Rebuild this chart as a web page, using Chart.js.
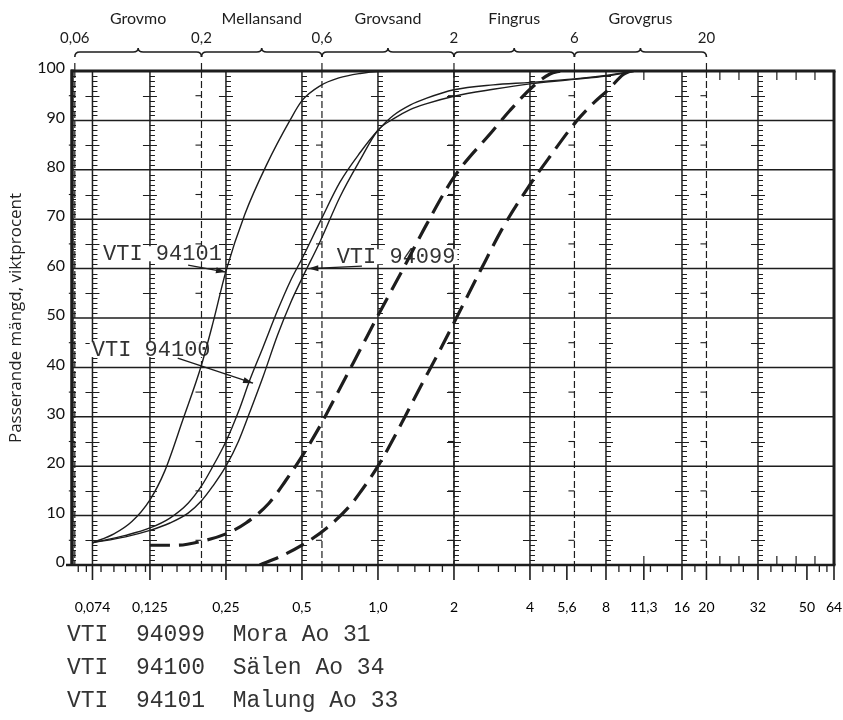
<!DOCTYPE html>
<html><head><meta charset="utf-8">
<script src="https://cdn.jsdelivr.net/npm/chart.js@4/dist/chart.umd.min.js"></script>
<style>html,body{margin:0;padding:0;background:#fff}</style>
</head><body>
<canvas id="c" width="843" height="720"></canvas>
<script>
// ---------- data ----------
const sieveSizes  = [0.074,0.125,0.25,0.5,1,2,4,5.6,8,11.3,16,20,32,50,64];
const sieveLabels = ['0,074','0,125','0,25','0,5','1,0','2','4','5,6','8','11,3','16','20','32','50','64'];
const solidGrid   = [0.074,0.125,0.25,0.5,1,2,4,8,16,32];
const fractionBounds = [0.063,0.2,0.6,2,6,20];
const fractionBoundLabels = ['0,06','0,2','0,6','2','6','20'];
const fractionNames = ['Grovmo','Mellansand','Grovsand','Fingrus','Grovgrus'];
const percentTicks = [0,10,20,30,40,50,60,70,80,90,100];
const minorSieveTicks = [0.065,0.07,0.08,0.09,0.1,0.11,0.12,0.14,0.16,0.18,0.2,0.22,0.24,0.3,0.35,0.4,0.45,0.6,0.7,0.8,0.9,1.2,1.4,1.6,1.8,2.5,3,3.5,4.5,5,6,7,9,10,12,14,18,25,28,36,40,45,56,60];
const innerRulerTicks = [11.3,22.6,26.9,38,45.3,53.8];

const s94099_x = [0.074,0.1,0.125,0.15,0.177,0.2,0.222,0.25,0.28,0.311,0.35,0.4,0.45,0.5,0.59,0.707,0.85,1.0,1.15,1.34,1.56,2,2.86,4,6,8,10.5];
const s94099_y = [4.5,5.7,7,8.5,10.5,13,16,20,25,31,38,46.5,53,58,65.5,74.5,82,88,90.3,92.2,93.4,94.9,96.3,97.4,98.3,99,100];
const s94100_x = [0.074,0.1,0.125,0.15,0.177,0.2,0.222,0.25,0.28,0.311,0.35,0.4,0.45,0.5,0.59,0.707,0.85,1.0,1.15,1.34,1.56,2,2.86,4,6,8,10.5];
const s94100_y = [4.5,6,7.5,9.5,12.5,16,20,25,31,37.5,44,51.5,57.5,62,69.5,77.5,83.5,88,91,93.1,94.5,96.2,97.2,97.7,98.4,99.1,100];
const s94101_x = [0.074,0.09,0.106,0.125,0.143,0.169,0.2,0.222,0.25,0.297,0.362,0.448,0.5,0.59,0.7,0.85,1.0,1.5];
const s94101_y = [4.5,6.3,8.8,13.2,19,29.5,40.5,49,59.5,71,81,90,94,97,98.6,99.5,99.9,100];
const dashA_x = [0.125,0.16,0.2,0.25,0.3,0.37,0.43,0.5,0.58,0.67,0.8,0.9,1.0,1.26,1.56,2.0,2.86,3.33,4.1,4.8,5.3];
const dashA_y = [4,4,4.8,6.3,8.5,12.5,17,22,27.5,33.5,41,46,50.5,60,69,78.5,88,92,96.8,99.4,100];
const dashB_x = [0.34,0.41,0.5,0.627,0.775,0.85,1.0,1.22,1.47,1.76,2.02,2.54,3.14,4.0,4.8,6.1,7.1,8.2,9.36,10];
const dashB_y = [0,1.7,4,7.5,12,14.7,20,28,36,43.5,49.5,59.5,68.5,77,82.7,89.8,93.4,96.3,99.3,100];

const annoText  = ['VTI 94101','VTI 94099','VTI 94100'];
const annoAt    = [[0.0815,62.9],[0.686,62.3],[0.0735,43.5]];   // text left-middle (data coords)
const annoFrom  = [[0.177,60.7],[0.864,60.5],[0.161,41.9]];
const annoTip   = [[0.25,59.3],[0.53,60],[0.32,36.8]];
const legendLines = ['VTI  94099  Mora Ao 31','VTI  94100  Sälen Ao 34','VTI  94101  Malung Ao 33'];
const yTitle = 'Passerande mängd, viktprocent';

// ---------- drawing helpers ----------
const INK = '#1d1d1d';
const pts = (xs, ys) => xs.map((v, i) => ({x: v, y: ys[i]}));
function seg(ctx, x1, y1, x2, y2){ ctx.beginPath(); ctx.moveTo(x1,y1); ctx.lineTo(x2,y2); ctx.stroke(); }

const paper = {
  id: 'paper',
  beforeDatasetsDraw(chart){
    const {ctx, chartArea: a, scales: {x, y}} = chart;
    ctx.save();
    ctx.strokeStyle = INK; ctx.lineCap = 'butt';
    ctx.lineWidth = 1.5;
    percentTicks.forEach(p => { if (p > 0 && p < 100){ const Y = y.getPixelForValue(p); seg(ctx, a.left, Y, a.right, Y);} });
    solidGrid.forEach(v => { const X = x.getPixelForValue(v); seg(ctx, X, a.top, X, a.bottom); });
    ctx.lineWidth = 1.2; ctx.setLineDash([7,3]);
    fractionBounds.forEach(v => { const X = x.getPixelForValue(v); seg(ctx, X, a.top, X, a.bottom); });
    ctx.setLineDash([]);
    ctx.lineWidth = 1.1;
    fractionBounds.forEach(v => { const X = x.getPixelForValue(v);
      for (let p = 5; p < 100; p += 10){ const Y = y.getPixelForValue(p); seg(ctx, X-6, Y, X, Y); } });
    ctx.lineWidth = 1;
    [null, ...solidGrid].forEach(v => {
      const X = v === null ? a.left : x.getPixelForValue(v);
      for (let p = 1; p < 100; p++){
        if (p % 10 === 0) continue;
        const Y = Math.round(y.getPixelForValue(p)) + 0.5;
        if (p % 5 === 0 && v !== null) seg(ctx, X-7, Y, X+7, Y);
        else seg(ctx, X, Y, X + (v === null ? 4 : 5), Y);
      }
    });
    ctx.font = '22px "Liberation Mono", monospace';
    ctx.textBaseline = 'middle'; ctx.textAlign = 'left';
    annoText.forEach((t, i) => {
      const X = x.getPixelForValue(annoAt[i][0]), Y = y.getPixelForValue(annoAt[i][1]);
      const w = ctx.measureText(t).width;
      ctx.fillStyle = '#fff'; ctx.fillRect(X-2, Y-8, w+4, 15);
      ctx.fillStyle = '#333'; ctx.fillText(t, X, Y);
    });
    ctx.restore();
  },
  afterDatasetsDraw(chart){
    const {ctx, chartArea: a, scales: {x, y}} = chart;
    ctx.save();
    ctx.strokeStyle = INK; ctx.fillStyle = INK;
    ctx.lineWidth = 3;
    seg(ctx, a.left-1, a.top, a.right+1.5, a.top);
    seg(ctx, a.right, a.top, a.right, a.bottom);
    ctx.lineWidth = 3.5; seg(ctx, a.left, a.top-1.5, a.left, a.bottom+1);
    ctx.lineWidth = 2.5; seg(ctx, a.left-6, a.bottom, a.right+1.5, a.bottom);
    ctx.lineWidth = 1.3;
    minorSieveTicks.forEach(v => { const X = x.getPixelForValue(v); seg(ctx, X, a.bottom, X, a.bottom+7); });
    ctx.lineWidth = 1.6;
    sieveSizes.forEach(v => { const X = x.getPixelForValue(v); seg(ctx, X, a.bottom, X, a.bottom+15); });
    ctx.lineWidth = 1.2;
    innerRulerTicks.forEach(v => { const X = x.getPixelForValue(v);
      seg(ctx, X, a.bottom, X, a.bottom-9); seg(ctx, X, a.top, X, a.top+9); });
    fractionBounds.forEach(v => { const X = x.getPixelForValue(v); seg(ctx, X, a.top-8, X, a.top); });
    ctx.lineWidth = 1.3;
    annoFrom.forEach((f, i) => {
      const x1 = x.getPixelForValue(f[0]), y1 = y.getPixelForValue(f[1]);
      const x2 = x.getPixelForValue(annoTip[i][0]), y2 = y.getPixelForValue(annoTip[i][1]);
      seg(ctx, x1, y1, x2, y2);
      const ang = Math.atan2(y2-y1, x2-x1), L = 10, W = 3;
      ctx.beginPath(); ctx.moveTo(x2, y2);
      ctx.lineTo(x2 - L*Math.cos(ang) + W*Math.sin(ang), y2 - L*Math.sin(ang) - W*Math.cos(ang));
      ctx.lineTo(x2 - L*Math.cos(ang) - W*Math.sin(ang), y2 - L*Math.sin(ang) + W*Math.cos(ang));
      ctx.closePath(); ctx.fill();
    });
    const by = 52;
    ctx.lineWidth = 1.6;
    ctx.textAlign = 'center'; ctx.textBaseline = 'middle';
    for (let i = 0; i < fractionBounds.length - 1; i++){
      const xa = x.getPixelForValue(fractionBounds[i]), xb = x.getPixelForValue(fractionBounds[i+1]);
      const xm = (xa + xb) / 2;
      ctx.beginPath();
      ctx.moveTo(xa, by+5); ctx.quadraticCurveTo(xa, by, xa+5, by);
      ctx.lineTo(xm-5, by); ctx.quadraticCurveTo(xm, by, xm, by-4);
      ctx.quadraticCurveTo(xm, by, xm+5, by);
      ctx.lineTo(xb-5, by); ctx.quadraticCurveTo(xb, by, xb, by+5);
      ctx.stroke();
      ctx.font = '16px Lato, sans-serif';
      ctx.fillText(fractionNames[i], xm, 19);
    }
    ctx.font = '15px Lato, sans-serif';
    fractionBounds.forEach((v, i) => ctx.fillText(fractionBoundLabels[i], x.getPixelForValue(v), 38));
    ctx.font = '23px "Liberation Mono", monospace';
    ctx.textAlign = 'left'; ctx.fillStyle = '#333';
    legendLines.forEach((t, i) => ctx.fillText(t, 67, 635 + i*33));
    ctx.restore();
  }
};

const solid = (label, xs, ys) => ({label, data: pts(xs, ys), showLine: true, borderColor: INK,
  borderWidth: 1.4, pointRadius: 0, cubicInterpolationMode: 'monotone', fill: false});
const dashed = (label, xs, ys) => ({label, data: pts(xs, ys), showLine: true, borderColor: INK,
  borderWidth: 3.2, borderDash: [20, 9], pointRadius: 0, cubicInterpolationMode: 'monotone', fill: false});

const chart = new Chart(document.getElementById('c'), {
  type: 'scatter',
  data: { datasets: [
    solid('VTI 94099', s94099_x, s94099_y),
    solid('VTI 94100', s94100_x, s94100_y),
    solid('VTI 94101', s94101_x, s94101_y),
    dashed('gräns A', dashA_x, dashA_y),
    dashed('gräns B', dashB_x, dashB_y)
  ]},
  options: {
    responsive: false, animation: false, devicePixelRatio: 1,
    layout: { padding: { left: 0, right: 9, top: 71, bottom: 0 } },
    plugins: { legend: {display: false}, tooltip: {enabled: false} },
    scales: {
      x: {
        type: 'logarithmic', min: 0.0614, max: 64, position: 'bottom',
        grid: {display: false, drawTicks: false}, border: {display: false},
        afterBuildTicks: s => { s.ticks = sieveSizes.map(v => ({value: v})); },
        ticks: { autoSkip: false, maxRotation: 0, minRotation: 0, padding: 34, color: '#000',
          font: {family: 'Lato', size: 14}, callback: (v, i) => sieveLabels[i] },
        afterFit: s => { s.height = 155; s.paddingLeft = 0; s.paddingRight = 0; }
      },
      y: {
        min: 0, max: 100,
        afterBuildTicks: s => { s.ticks = percentTicks.map(v => ({value: v})); },
        grid: {display: false, drawTicks: false}, border: {display: false},
        ticks: { padding: 7, labelOffset: -3, color: '#111', font: {family: 'Lato', size: 16} },
        title: { display: true, text: yTitle, color: '#222', font: {family: 'Open Sans', size: 17}, padding: {top: 6, bottom: 0} },
        afterFit: s => { s.width = 72; s.paddingTop = 0; s.paddingBottom = 0; }
      }
    }
  },
  plugins: [paper]
});
</script>
</body></html>
